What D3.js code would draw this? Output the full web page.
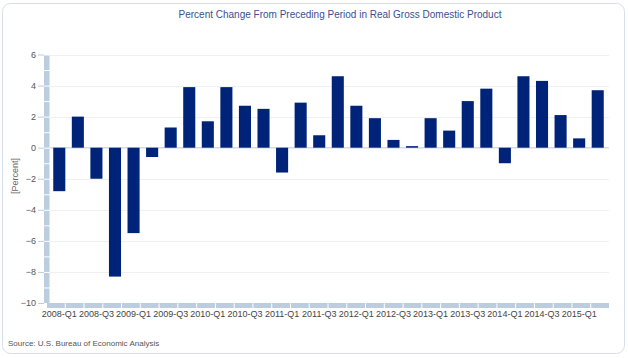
<!DOCTYPE html>
<html><head><meta charset="utf-8">
<script src="https://cdn.jsdelivr.net/npm/d3@7"></script>
<style>body{margin:0;background:#fff}svg{display:block}text{font-family:"Liberation Sans",Arial,sans-serif}</style>
</head><body><svg id="c" width="628" height="358"></svg>
<script>
const categories = ["2008-Q1","2008-Q2","2008-Q3","2008-Q4","2009-Q1","2009-Q2","2009-Q3","2009-Q4","2010-Q1","2010-Q2","2010-Q3","2010-Q4","2011-Q1","2011-Q2","2011-Q3","2011-Q4","2012-Q1","2012-Q2","2012-Q3","2012-Q4","2013-Q1","2013-Q2","2013-Q3","2013-Q4","2014-Q1","2014-Q2","2014-Q3","2014-Q4","2015-Q1","2015-Q2"];
const values = [-2.8,2.0,-2.0,-8.3,-5.5,-0.6,1.3,3.9,1.7,3.9,2.7,2.5,-1.6,2.9,0.8,4.6,2.7,1.9,0.5,0.1,1.9,1.1,3.0,3.8,-1.0,4.6,4.3,2.1,0.6,3.7];
const yTicks = [6,4,2,0,-2,-4,-6,-8,-10];
const title = "Percent Change From Preceding Period in Real Gross Domestic Product";
const yLabel = "[Percent]";
const source = "Source: U.S. Bureau of Economic  Analysis";

const svg = d3.select("#c");
svg.append("rect").attr("x",2.5).attr("y",3.5).attr("width",622).attr("height",350).attr("rx",8)
  .attr("fill","#fff").attr("stroke","#d5deec");

const L=50, R=607, T=54.5, B=303;
const x = d3.scaleBand().domain(categories).range([L,R]).paddingInner(0.35).paddingOuter(0.175);
const xs = d3.scaleBand().domain(categories).range([L-4,R+2]);
const y = d3.scaleLinear().domain([-10,6]).range([B,T]);

// gridlines
svg.append("g").selectAll("line").data(yTicks).join("line")
  .attr("x1",L).attr("x2",R+2).attr("y1",d=>Math.round(y(d))+0.5).attr("y2",d=>Math.round(y(d))+0.5)
  .attr("stroke","#f0f0f0");

// y axis bar segmented
const yMinor = d3.range(-10,6,1);
svg.append("g").selectAll("rect").data(yMinor).join("rect")
  .attr("x",44).attr("width",5.5)
  .attr("y",d=>y(d+1)+1).attr("height",d=>y(d)-y(d+1)-1)
  .attr("fill","#bccde0");
// y ticks
const yAxis = d3.axisLeft(y).tickValues(yTicks).tickSize(6).tickPadding(2);
const ga = svg.append("g").attr("transform","translate(44,0)").call(yAxis);
ga.select(".domain").remove();
ga.selectAll("line").attr("stroke","#bccde0");
ga.selectAll("text").attr("fill","#555").style("font-size","9px");

// x axis bar segmented
svg.append("g").selectAll("rect").data(categories).join("rect")
  .attr("x",d=>xs(d)+1).attr("width",xs.bandwidth()-1)
  .attr("y",B).attr("height",5).attr("fill","#bccde0");
svg.append("g").selectAll("text").data(categories.filter((d,i)=>i%2===0)).join("text")
  .attr("x",d=>x(d)+x.bandwidth()/2).attr("y",317).attr("text-anchor","middle")
  .attr("fill","#444").style("font-size","9px").text(d=>d);

// zero line
svg.append("line").attr("x1",L).attr("x2",R+2).attr("y1",y(0)).attr("y2",y(0)).attr("stroke","#c8d3e3");

// bars
svg.append("g").selectAll("rect").data(values).join("rect")
  .attr("x",(d,i)=>x(categories[i])).attr("width",x.bandwidth())
  .attr("y",d=>y(Math.max(0,d))).attr("height",d=>Math.abs(y(d)-y(0)))
  .attr("fill","#00237a");

svg.append("text").attr("x",340).attr("y",18).attr("text-anchor","middle")
  .attr("fill","#3b4f8c").style("font-size","10px").text(title);
svg.append("text").attr("transform","translate(18,176) rotate(-90)").attr("text-anchor","middle")
  .attr("fill","#666").style("font-size","9px").text(yLabel);
svg.append("text").attr("x",8).attr("y",346).attr("fill","#555").style("font-size","8px").text(source);
</script></body></html>
